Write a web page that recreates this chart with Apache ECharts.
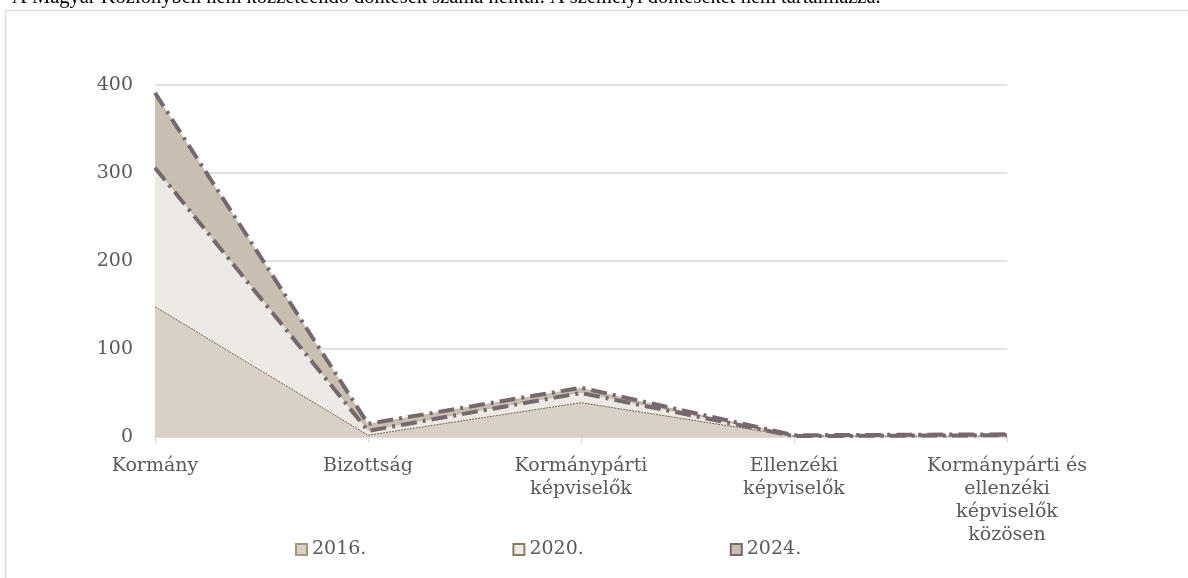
<!DOCTYPE html>
<html>
<head>
<meta charset="utf-8">
<script src="https://cdn.jsdelivr.net/npm/echarts@6/dist/echarts.min.js"></script>
<style>
  html, body { margin: 0; padding: 0; background: #fff; }
  #main { width: 1188px; height: 578px; }
</style>
</head>
<body>
<div id="main"></div>
<script>
// categories and values (stacked area)
var categories = ['Kormány', 'Bizottság', 'Kormánypárti\nképviselők', 'Ellenzéki\nképviselők', 'Kormánypárti és\nellenzéki\nképviselők\nközösen'];
var years = ['2016.', '2020.', '2024.'];
var v2016 = [148, 2, 39, 1, 1];
var v2020 = [158, 5, 11, 0, 1];
var v2024 = [85, 8, 6, 1, 1];
var yTicks = [0, 100, 200, 300, 400];

var serif = '"DejaVu Serif", "Liberation Serif", serif';

var myChart = echarts.init(document.getElementById('main'));

var option = {
    animation: false,
    textStyle: { fontFamily: serif },
    graphic: [
        {
            type: 'rect',
            shape: { x: 5.5, y: 10.5, width: 1200, height: 600 },
            style: { fill: '#fff', stroke: '#d9d9d9', lineWidth: 1.5 },
            z: -10
        },
        {
            type: 'text',
            left: 12, top: -13,
            style: {
                text: 'A Magyar Közlönyben nem közzéteendő döntések száma nélkül. A személyi döntéseket nem tartalmazza.',
                font: '20.5px "Liberation Serif", serif',
                fill: '#000'
            }
        }
    ],
    grid: { left: 155, right: 181, top: 85, bottom: 141 },
    legend: {
        data: years,
        bottom: 14,
        left: 290,
        itemGap: 146,
        itemWidth: 11,
        itemHeight: 11,
        icon: 'rect',
        textStyle: { fontSize: 19, color: '#595959', fontFamily: serif }
    },
    xAxis: {
        type: 'category',
        data: categories,
        boundaryGap: false,
        axisLine: { lineStyle: { color: '#d9d9d9', width: 1.5 } },
        axisTick: { show: true, length: 6, lineStyle: { color: '#d9d9d9' } },
        axisLabel: {
            color: '#595959', fontSize: 19, lineHeight: 23, margin: 18, interval: 0,
            fontFamily: serif
        }
    },
    yAxis: {
        type: 'value',
        min: yTicks[0],
        max: yTicks[yTicks.length - 1],
        interval: 100,
        axisLine: { show: false },
        axisTick: { show: false },
        splitLine: { lineStyle: { color: '#d9d9d9', width: 1.5 } },
        axisLabel: { color: '#595959', fontSize: 19, margin: 22, fontFamily: serif }
    },
    series: [
        {
            name: years[0], type: 'line', stack: 'total', data: v2016,
            showSymbol: false, symbol: 'none',
            lineStyle: { color: '#6f6146', width: 1, type: [2, 1] },
            areaStyle: { color: '#d9d1c7', opacity: 1 },
            itemStyle: { color: '#d9d1c7', borderColor: '#a3977f', borderWidth: 1.5 }
        },
        {
            name: years[1], type: 'line', stack: 'total', data: v2020,
            showSymbol: false, symbol: 'none',
            lineStyle: { color: '#76686f', width: 4, type: [16, 6, 3, 6] },
            areaStyle: { color: '#edeae5', opacity: 1 },
            itemStyle: { color: '#edeae5', borderColor: '#8c7b5a', borderWidth: 1.5, borderType: 'dotted' }
        },
        {
            name: years[2], type: 'line', stack: 'total', data: v2024,
            showSymbol: false, symbol: 'none',
            lineStyle: { color: '#76686f', width: 4, type: [16, 6, 3, 6] },
            areaStyle: { color: '#c9bfb0', opacity: 1 },
            itemStyle: { color: '#c9bfb0', borderColor: '#76686f', borderWidth: 1.5 }
        }
    ]
};

myChart.setOption(option);
</script>
</body>
</html>
